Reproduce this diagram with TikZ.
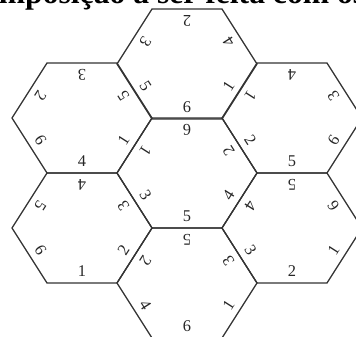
\documentclass[tikz,border=0pt]{standalone}
\usepackage{fontspec}
\setmainfont{Liberation Serif}
\tikzset{
  hexline/.style={draw=black!80, line width=1.1pt, line join=round},
  num/.style={inner sep=0pt, font=\fontsize{14}{14}\selectfont, text=black!85},
  headline/.style={inner sep=0pt, anchor=base west, font=\bfseries\fontsize{27}{27}\selectfont}
}
\newcommand\hexcell[9]{%
  \begin{scope}[shift={(#2,#3)}]
    \coordinate (#1) at (0,0);
    \draw[hexline] (-70,0) -- (-35,-55) -- (35,-55) -- (70,0) -- (35,55) -- (-35,55) -- cycle;
    \node[num,rotate=180]   (#1-t)  at (0,-43.5)     {#4};
    \node[num,rotate=122.5] (#1-ur) at (41.5,-21.7)  {#5};
    \node[num,rotate=57.5]  (#1-lr) at (41.5,21.7)   {#6};
    \node[num]              (#1-b)  at (0,43.5)      {#7};
    \node[num,rotate=-57.5] (#1-ll) at (-41.5,21.7)  {#8};
    \node[num,rotate=-122.5](#1-ul) at (-41.5,-21.7) {#9};
  \end{scope}}
\begin{document}
\begin{tikzpicture}[x=0.03cm,y=-0.03cm]
\useasboundingbox (0,0) rectangle (356,337);
\node[headline] (head) at (-40,3.5) {Composição a ser feita com os};
\hexcell{top}{187}{64}{2}{4}{1}{6}{5}{3}
\hexcell{ul}{82}{118}{3}{5}{1}{4}{6}{2}
\hexcell{ur}{292}{118}{4}{3}{6}{5}{2}{1}
\hexcell{mid}{187}{173}{6}{2}{4}{5}{3}{1}
\hexcell{ll}{82}{228}{4}{3}{2}{1}{6}{5}
\hexcell{lr}{292}{228}{5}{6}{1}{2}{3}{4}
\hexcell{bot}{187}{283}{5}{3}{1}{6}{4}{2}
\end{tikzpicture}
\end{document}
